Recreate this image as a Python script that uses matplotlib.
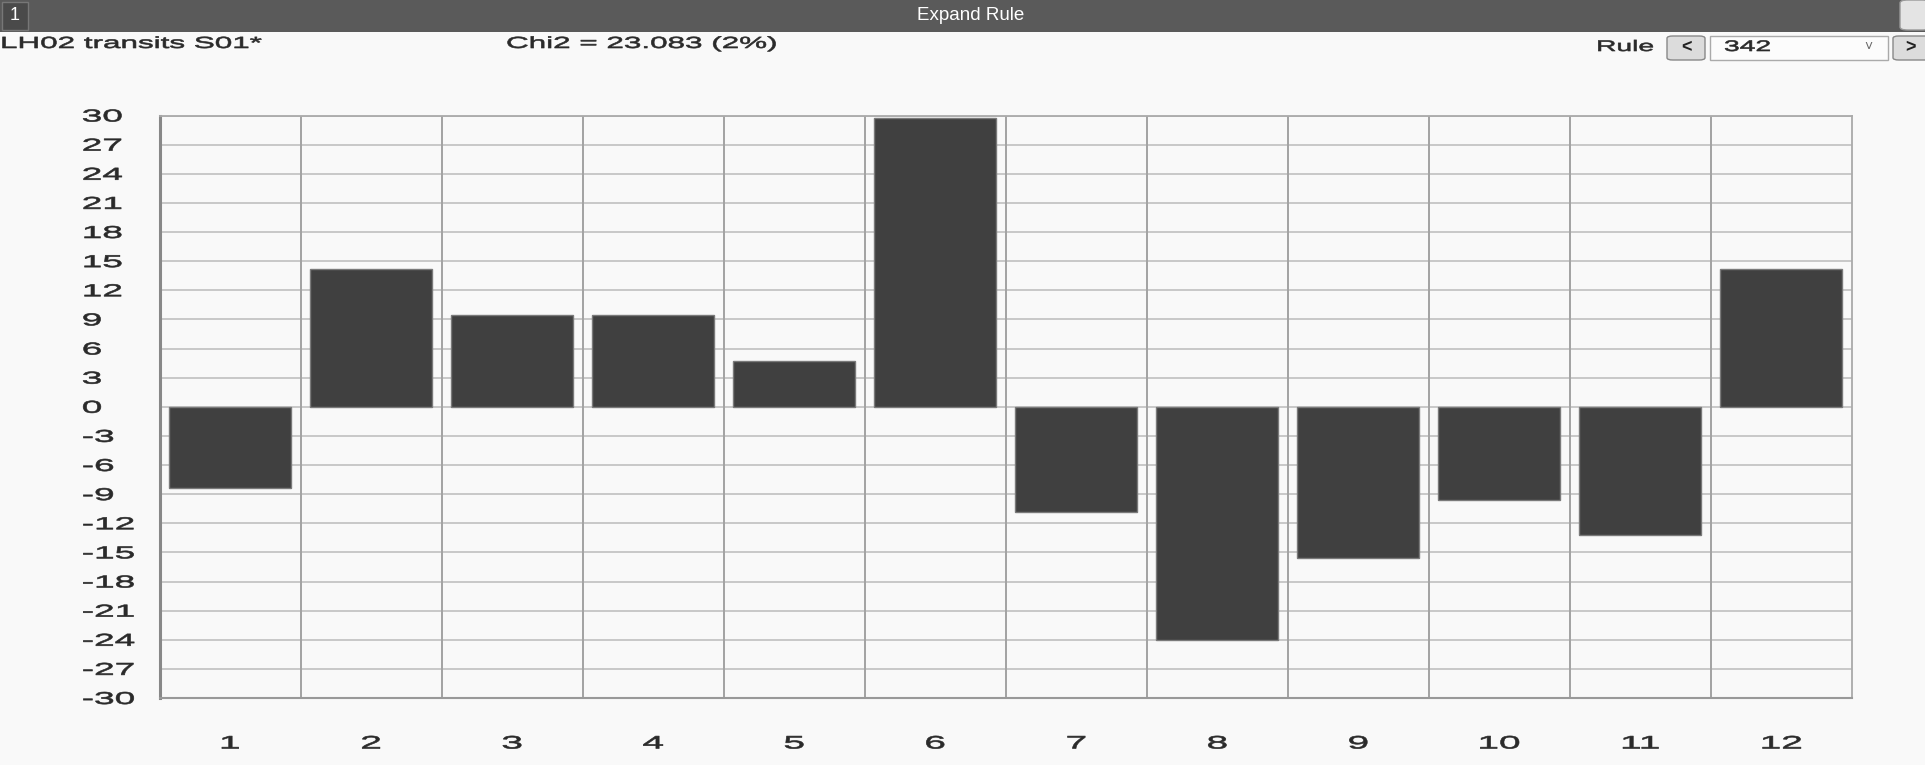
import numpy as np
import matplotlib.pyplot as plt
from matplotlib.patches import Rectangle, FancyBboxPatch
from matplotlib.patheffects import AbstractPathEffect
from matplotlib.transforms import Affine2D

# values
houses = ["1", "2", "3", "4", "5", "6", "7", "8", "9", "10", "11", "12"]
scores = [-8.4, 14.2, 9.4, 9.4, 4.7, 29.7, -10.8, -24.0, -15.6, -9.6, -13.2, 14.2]
y_ticks = list(range(-30, 31, 3))

title_left = "LH02 transits S01*"
title_chi = "Chi2 = 23.083 (2%)"
rule_no = "342"

plt.rcParams["font.family"] = ["Liberation Sans", "DejaVu Sans"]


class Stretch(AbstractPathEffect):
    """widen glyphs horizontally (the app renders its text stretched), slight stroke for weight"""

    def __init__(self, sx, anchor="left", stroke=0.45):
        super().__init__()
        self.sx = sx
        self.anchor = anchor
        self.stroke = stroke

    def draw_path(self, renderer, gc, tpath, affine, rgbFace=None):
        ext = tpath.get_extents()
        cx = {"left": 0.0, "center": (ext.x0 + ext.x1) / 2, "right": ext.x1}[self.anchor]
        st = Affine2D().translate(-cx, 0).scale(self.sx, 1).translate(cx, 0)
        gc0 = renderer.new_gc()
        gc0.copy_properties(gc)
        if self.stroke and rgbFace is not None:
            gc0.set_linewidth(self.stroke)
            gc0.set_foreground(rgbFace)
        renderer.draw_path(gc0, tpath, st + affine, rgbFace)
        gc0.restore()


W, H = 1925, 765
fig = plt.figure(figsize=(W / 100, H / 100), dpi=100)
fig.patch.set_facecolor("#f9f9f9")
txt = "#2a2a2a"

# window header strip
fig.patches.append(Rectangle((0, 1 - 32 / H), 1, 32 / H, transform=fig.transFigure,
                             facecolor="#5a5a5a", edgecolor="none"))
fig.patches.append(Rectangle((2 / W, 1 - 30 / H), 26 / W, 28 / H, transform=fig.transFigure,
                             facecolor="#4a4a4a", edgecolor="#777777", lw=1))
fig.text(15 / W, 1 - 16 / H, "1", color="white", fontsize=13, ha="center", va="center")
fig.text(971 / W, 1 - 16 / H, "Expand Rule", color="white", fontsize=13.5, ha="center", va="center")

# header row
t1 = fig.text(0, 1 - 43.5 / H, title_left, fontsize=11.6, color=txt, va="center")
t2 = fig.text(506 / W, 1 - 43.5 / H, title_chi, fontsize=11.6, color=txt, va="center")
for t in (t1, t2):
    t.set_path_effects([Stretch(1.95)])

t3 = fig.text(1596 / W, 1 - 47 / H, "Rule", fontsize=11, color=txt, va="center")
fig.patches.append(FancyBboxPatch((1667 / W, 1 - 60 / H), 38 / W, 24 / H, transform=fig.transFigure,
                                  boxstyle="round,pad=0,rounding_size=0.003",
                                  facecolor="#dcdcdc", edgecolor="#888888", lw=1))
fig.text(1686 / W, 1 - 48 / H, "<", fontsize=13, color="#222222", ha="center", va="center",
         fontweight="bold")
fig.patches.append(Rectangle((1710 / W, 1 - 60 / H), 178 / W, 24 / H, transform=fig.transFigure,
                             facecolor="#fcfcfc", edgecolor="#aaaaaa", lw=1))
t4 = fig.text(1724 / W, 1 - 47 / H, rule_no, fontsize=11, color=txt, va="center")
for t in (t3, t4):
    t.set_path_effects([Stretch(1.85)])
fig.text(1868 / W, 1 - 47 / H, "\u02c5", fontsize=10, color="#666666", ha="center", va="center")
fig.patches.append(FancyBboxPatch((1893 / W, 1 - 60 / H), 38 / W, 24 / H, transform=fig.transFigure,
                                  boxstyle="round,pad=0,rounding_size=0.003",
                                  facecolor="#dcdcdc", edgecolor="#888888", lw=1))
fig.text(1911 / W, 1 - 48 / H, ">", fontsize=13, color="#222222", ha="center", va="center",
         fontweight="bold")
fig.patches.append(FancyBboxPatch((1900 / W, 1 - 30 / H), 30 / W, 30 / H, transform=fig.transFigure,
                                  boxstyle="round,pad=0,rounding_size=0.004",
                                  facecolor="#e4e4e4", edgecolor="#999999", lw=1))

# chart
left, right, top, bottom = 159.5, 1852, 115.5, 698
ax = fig.add_axes([left / W, 1 - bottom / H, (right - left) / W, (bottom - top) / H])
ax.set_facecolor("#f9f9f9")

x = np.arange(1, len(houses) + 1)
ax.bar(x, scores, width=0.865, color="#404040", edgecolor="#7a7a7a", linewidth=1.0, zorder=3)

ax.set_xlim(0.5, len(houses) + 0.5)
ax.set_ylim(-30, 30)
ax.set_yticks(y_ticks)
ax.set_yticklabels([str(v) for v in y_ticks], ha="left")
ax.set_xticks(x)
ax.set_xticklabels(houses)

for v in y_ticks:
    ax.axhline(v, color="#c4c4c4", lw=1.3, zorder=1)
for b in np.arange(1.5, len(houses), 1):
    ax.axvline(b, color="#a2a2a2", lw=1.4, zorder=2)

for side in ["top", "right"]:
    ax.spines[side].set_color("#aaaaaa")
    ax.spines[side].set_linewidth(1.3)
ax.spines["bottom"].set_color("#999999")
ax.spines["bottom"].set_linewidth(1.5)
ax.spines["left"].set_color("#888888")
ax.spines["left"].set_linewidth(2.2)

ax.tick_params(axis="y", length=0, labelsize=12.4, colors=txt, pad=56)
ax.tick_params(axis="x", length=0, labelsize=13, colors=txt, pad=27)

for lab in ax.get_yticklabels():
    lab.set_path_effects([Stretch(2.15)])
for lab in ax.get_xticklabels():
    lab.set_path_effects([Stretch(2.15, anchor="center")])

fig.savefig("out.png", dpi=100, facecolor=fig.get_facecolor())
